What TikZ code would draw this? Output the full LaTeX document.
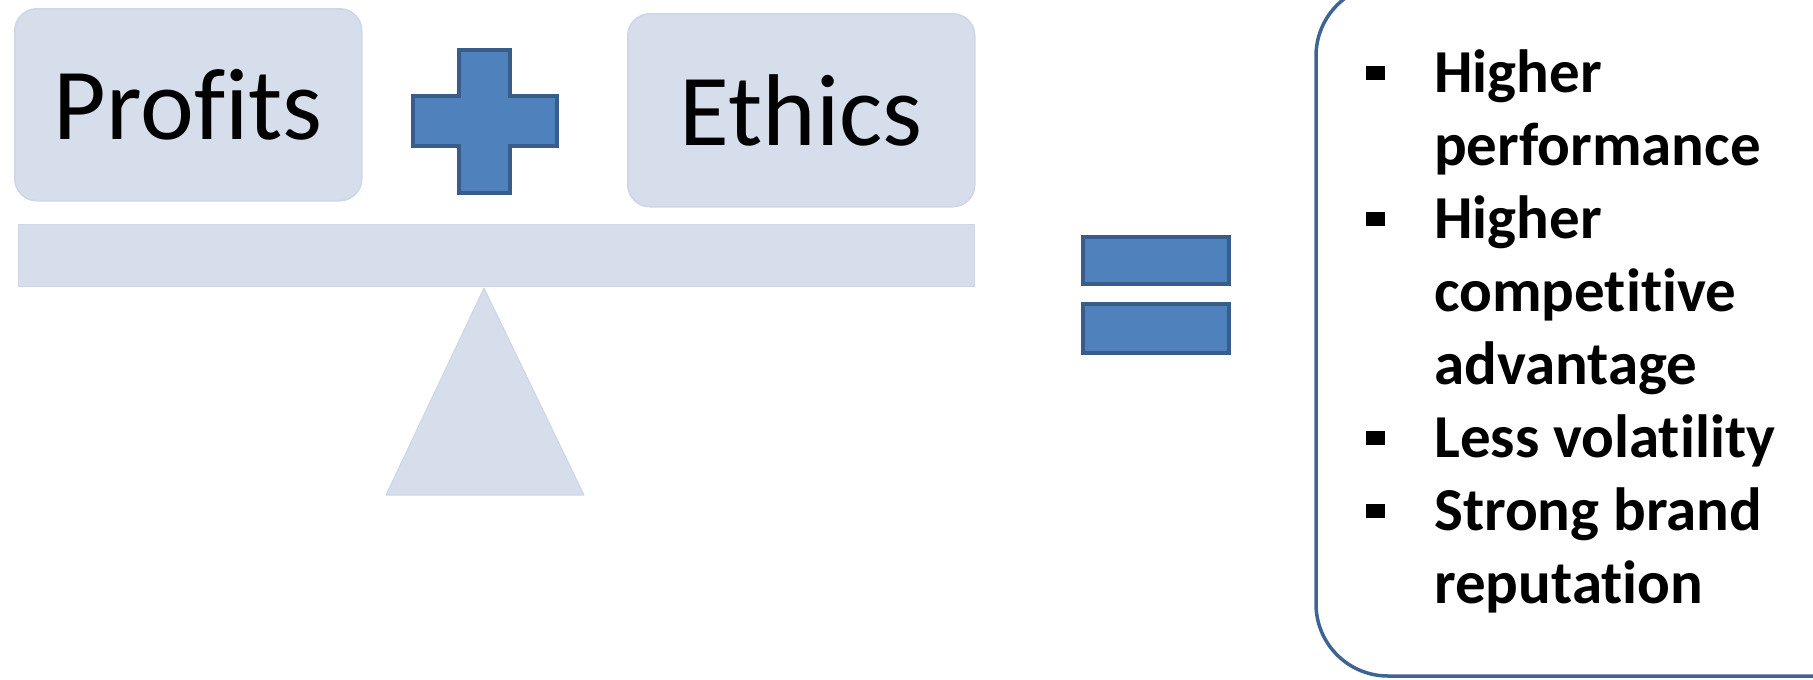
\documentclass[tikz,border=0pt]{standalone}
\usepackage{fontspec}
\setmainfont{Carlito}[Ligatures={NoCommon}]
\definecolor{lightbox}{RGB}{214,221,235}
\definecolor{lightedge}{RGB}{206,214,231}
\definecolor{signfill}{RGB}{79,129,189}
\definecolor{signedge}{RGB}{56,93,138}
\definecolor{frameedge}{RGB}{62,100,148}
\tikzset{
  termbox/.style={fill=lightbox, draw=lightedge, line width=1.5, rounded corners=22, inner sep=0, font=\fontsize{102}{114}\selectfont},
  beambox/.style={fill=lightbox, draw=lightedge, line width=1},
  sign/.style={fill=signfill, draw=signedge, line width=4},
  item/.style={anchor=base west, inner sep=0, font=\fontsize{61}{73}\selectfont\bfseries},
  bulletmark/.style={fill=black}
}
\begin{document}
\begin{tikzpicture}[x=1pt,y=-1pt]
\useasboundingbox (0,0) rectangle (1813,680);
\clip (0,0) rectangle (1813,680);
% terms
\node[termbox, minimum width=347, minimum height=192, anchor=north west] (profits) at (14,8) {Profits};
\node[termbox, minimum width=347, minimum height=193, anchor=north west] (ethics) at (627,13) {Ethics};
% plus sign
\draw[sign] (459,50) -- (510,50) -- (510,96) -- (557,96) -- (557,146) -- (510,146) -- (510,193) -- (459,193) -- (459,146) -- (413,146) -- (413,96) -- (459,96) -- cycle;
% beam and fulcrum
\draw[beambox] (18,224) rectangle (974,286);
\draw[beambox, line join=round] (484,288) -- (584,495) -- (386,495) -- cycle;
% equals sign
\draw[sign] (1083,237) rectangle (1229,284);
\draw[sign] (1083,304) rectangle (1229,353);
% result frame
\draw[frameedge, line width=3.5, rounded corners=72] (1316,-16) rectangle (1900,676);
% items
\foreach \y in {66,212,431,504} {\fill[bulletmark] (1366,\y) rectangle (1385,\y+14);}
\node[item] (l1) at (1434,92) {Higher};
\node[item] (l2) at (1434,165) {performance};
\node[item] (l3) at (1434,238) {Higher};
\node[item] (l4) at (1434,311) {competitive};
\node[item] (l5) at (1434,384) {advantage};
\node[item] (l6) at (1434,457) {Less volatility};
\node[item] (l7) at (1434,530) {Strong brand};
\node[item] (l8) at (1434,603) {reputation};
\end{tikzpicture}
\end{document}
